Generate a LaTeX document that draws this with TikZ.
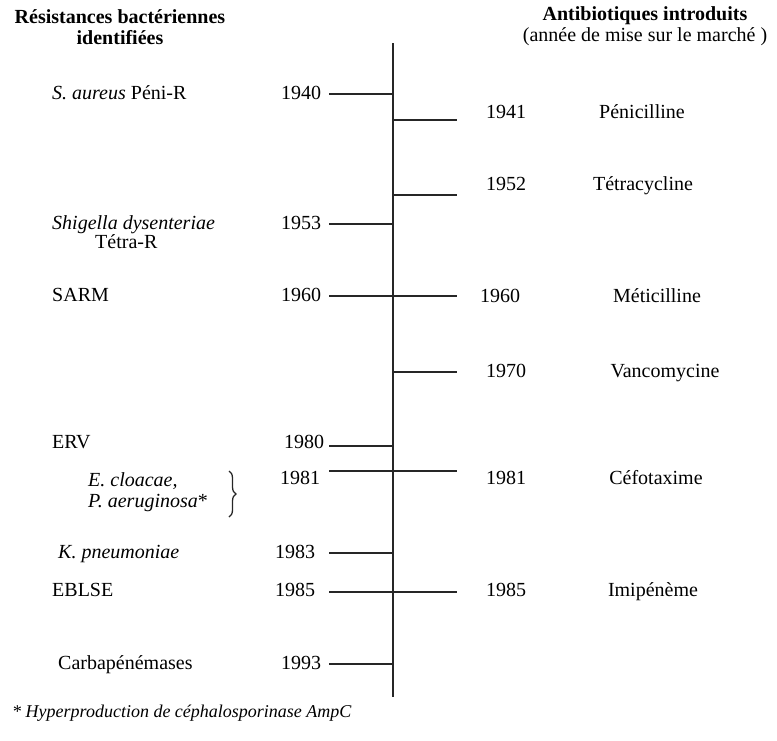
\documentclass[tikz,border=0pt]{standalone}
\usepackage{fontspec}
\setmainfont{Liberation Serif}
\usetikzlibrary{decorations.pathreplacing}
\begin{document}
\begin{tikzpicture}[x=1pt,y=-1pt,
txt/.style = {font=\fontsize{20}{21}\selectfont, inner sep=0pt, text height=14pt, text depth=4pt},
lft/.style = {txt, anchor=west},
hd/.style = {inner sep=0pt, align=center, font=\fontsize{20}{21}\selectfont},
tick/.style = {line width=1.4pt, black!85},
axe/.style = {line width=2pt, black!85}
]
  \useasboundingbox (0,0) rectangle (777,740);

  % headers
  \node[hd] (hleft) at (120,27) {\textbf{Résistances bactériennes}\\\textbf{identifiées}};
  \node[hd] (hright) at (645,26) {\textbf{Antibiotiques introduits}\\(année de mise sur le marché )};

  % time axis
  \coordinate (top) at (393,43);
  \coordinate (bot) at (393,697);
  \draw[axe] (top) -- (bot);

  % resistances (left)
  \node[lft] (r40) at (52,94) {\textit{S. aureus} Péni-R};
  \node[lft] (r53) at (52,224) {\textit{Shigella dysenteriae}};
  \node[lft] (r53b) at (95,243) {Tétra-R};
  \node[lft] (r60) at (52,296) {SARM};
  \node[lft] (r80) at (52,443) {ERV};
  \node[lft] (r81) at (88,481) {\textit{E. cloacae,}};
  \node[lft] (r81b) at (88,502) {\textit{P. aeruginosa}*};
  \node[lft] (r83) at (58,553) {\textit{K. pneumoniae}};
  \node[lft] (r85) at (52,591) {EBLSE};
  \node[lft] (r93) at (58,664) {Carbapénémases};
  \draw[line width=1.3pt, black!85, decorate, decoration={brace, amplitude=7pt}] (229,471) coordinate (br1) -- (229,517) coordinate (br2);

  \node[txt] (yl40) at (301,94) {1940};
  \node[txt] (yl53) at (301,224) {1953};
  \node[txt] (yl60) at (301,296) {1960};
  \node[txt] (yl80) at (304,443) {1980};
  \node[txt] (yl81) at (300,479) {1981};
  \node[txt] (yl83) at (295,553) {1983};
  \node[txt] (yl85) at (295,591) {1985};
  \node[txt] (yl93) at (301,664) {1993};

  % antibiotics (right)
  \node[txt] (yr41) at (506,113) {1941};
  \node[txt] (yr52) at (506,185) {1952};
  \node[txt] (yr60) at (500,297) {1960};
  \node[txt] (yr70) at (506,372) {1970};
  \node[txt] (yr81) at (506,479) {1981};
  \node[txt] (yr85) at (506,591) {1985};

  \node[txt] (a41) at (642,113) {Pénicilline};
  \node[txt] (a52) at (643,185) {Tétracycline};
  \node[txt] (a60) at (657,297) {Méticilline};
  \node[txt] (a70) at (665,372) {Vancomycine};
  \node[txt] (a81) at (656,479) {Céfotaxime};
  \node[txt] (a85) at (653,591) {Imipénème};

  % ticks
  \coordinate (tl40) at (329,94);   \coordinate (x40) at (393,94);
  \coordinate (tl53) at (329,224);  \coordinate (x53) at (393,224);
  \coordinate (tl60) at (329,296);  \coordinate (x60) at (393,296);
  \coordinate (tl80) at (329,446);  \coordinate (x80) at (393,446);
  \coordinate (tl81) at (329,471);  \coordinate (x81) at (393,471);
  \coordinate (tl83) at (329,553);  \coordinate (x83) at (393,553);
  \coordinate (tl85) at (329,592);  \coordinate (x85) at (393,592);
  \coordinate (tl93) at (329,664);  \coordinate (x93) at (393,664);
  \coordinate (x41) at (393,120);   \coordinate (tr41) at (457,120);
  \coordinate (x52) at (393,195);   \coordinate (tr52) at (457,195);
  \coordinate (tr60) at (457,296);
  \coordinate (x70) at (393,372);   \coordinate (tr70) at (457,372);
  \coordinate (tr81) at (457,471);
  \coordinate (tr85) at (457,592);

  \draw[tick] (tl40) -- (x40);
  \draw[tick] (tl53) -- (x53);
  \draw[tick] (tl60) -- (x60);
  \draw[tick] (tl80) -- (x80);
  \draw[tick] (tl81) -- (x81);
  \draw[tick] (tl83) -- (x83);
  \draw[tick] (tl85) -- (x85);
  \draw[tick] (tl93) -- (x93);
  \draw[tick] (x41) -- (tr41);
  \draw[tick] (x52) -- (tr52);
  \draw[tick] (x60) -- (tr60);
  \draw[tick] (x70) -- (tr70);
  \draw[tick] (x81) -- (tr81);
  \draw[tick] (x85) -- (tr85);

  % footnote
  \node[lft, font=\fontsize{18}{21}\selectfont\itshape] (note) at (12,712) {* Hyperproduction de céphalosporinase AmpC};
\end{tikzpicture}
\end{document}
